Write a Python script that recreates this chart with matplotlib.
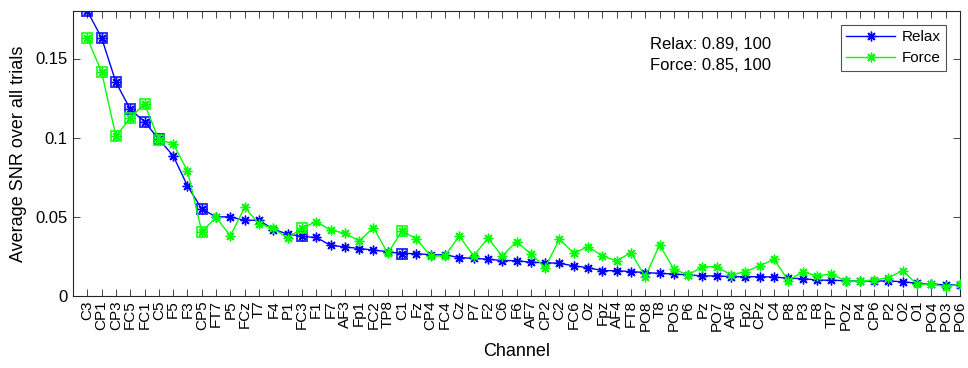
import matplotlib
matplotlib.use("Agg")
import matplotlib.pyplot as plt
import numpy as np

channels = ["C3","CP1","CP3","FC5","FC1","C5","F5","F3","CP5","FT7","P5","FCz","T7","F4","P1","FC3",
            "F1","F7","AF3","Fp1","FC2","TP8","C1","Fz","CP4","FC4","Cz","P7","F2","C6","F6","AF7",
            "CP2","C2","FC6","Oz","Fpz","AF4","FT8","PO8","T8","PO5","P6","Pz","PO7","AF8","Fp2",
            "CPz","C4","P8","P3","F8","TP7","POz","P4","CP6","P2","O2","O1","PO4","PO3","PO6"]

relax = [0.180,0.163,0.135,0.118,0.110,0.099,0.0886,0.0696,0.055,0.050,0.050,0.0477,0.048,0.042,0.0392,0.0376,
         0.037,0.032,0.031,0.030,0.029,0.028,0.0268,0.0268,0.026,0.026,0.0243,0.0238,0.0232,0.0224,0.0223,0.0213,
         0.021,0.0207,0.019,0.0179,0.016,0.016,0.0154,0.0148,0.0143,0.0139,0.0133,0.0127,0.0127,0.0122,0.0122,
         0.0122,0.012,0.0112,0.011,0.0101,0.0099,0.0097,0.0095,0.0095,0.0095,0.009,0.008,0.0076,0.007,0.007]

force = [0.1627,0.1415,0.1008,0.1125,0.1213,0.0987,0.0962,0.079,0.0407,0.0496,0.038,0.056,0.0456,0.0428,0.0365,0.0428,
         0.047,0.0416,0.0397,0.0348,0.0432,0.027,0.0411,0.036,0.0253,0.0253,0.038,0.0253,0.0365,0.0253,0.0344,0.0266,
         0.018,0.0359,0.027,0.0312,0.0253,0.0222,0.0274,0.0122,0.0323,0.0169,0.0133,0.0186,0.0186,0.0133,0.0154,
         0.019,0.0232,0.0097,0.0154,0.0127,0.0139,0.0095,0.0095,0.0101,0.0116,0.016,0.0074,0.0076,0.0059,0.0074]

significant = ["C3","CP1","CP3","FC5","FC1","C5","CP5","FC3","C1"]

annotation_lines = ["Relax: 0.89, 100", "Force: 0.85, 100"]

plt.rcParams['font.family'] = ['Liberation Sans', 'DejaVu Sans']

fig = plt.figure(figsize=(9.68, 3.68), dpi=100)
ax = fig.add_axes([73/968, 1-296/368, (960-73)/968, (296-11)/368])

x = np.arange(1, len(channels)+1)
blue = (0, 0, 1)
green = (0, 1, 0)
ast = (8, 2, 0)
ax.plot(x, relax, '-', color=blue, marker=ast, markersize=7, markeredgewidth=1.0, lw=1, label='Relax', zorder=3)
ax.plot(x, force, '-', color=green, marker=ast, markersize=7, markeredgewidth=1.0, lw=1, label='Force', zorder=4)

sig_idx = [channels.index(c) for c in significant]
ax.plot(x[sig_idx], np.array(relax)[sig_idx], 's', color=blue, markerfacecolor='none', markersize=6.5,
        markeredgewidth=1.3, alpha=0.85, zorder=3)
ax.plot(x[sig_idx], np.array(force)[sig_idx], 's', color=green, markerfacecolor='none', markersize=6.5,
        markeredgewidth=1.3, alpha=0.85, zorder=4)

ax.set_xlim(0, len(channels))
ax.set_ylim(0, 0.18)
ax.set_xticks(x)
ax.set_xticklabels(channels, rotation=90, fontsize=11)
ax.set_yticks([0, 0.05, 0.1, 0.15])
ax.set_yticklabels(["0", "0.05", "0.1", "0.15"], fontsize=12)
ax.tick_params(direction='in', top=True, right=True, length=5, width=0.6, color='#262626', pad=4)
ax.tick_params(axis='x', pad=3)
for s in ax.spines.values():
    s.set_linewidth(0.8)
    s.set_color('#262626')

ax.set_xlabel("Channel", fontsize=13, labelpad=9)
ax.set_ylabel("Average SNR over all trials", fontsize=13, labelpad=6)

ax.text(0.650, 0.884, annotation_lines[0], transform=ax.transAxes, fontsize=12, ha='left', va='center')
ax.text(0.650, 0.808, annotation_lines[1], transform=ax.transAxes, fontsize=12, ha='left', va='center')

leg = ax.legend(loc='upper right', bbox_to_anchor=(0.984, 0.951), fontsize=11, frameon=True, fancybox=False,
                edgecolor='#262626', borderpad=0.35, handlelength=3.2, handletextpad=0.4, labelspacing=0.45,
                borderaxespad=0)
leg.get_frame().set_linewidth(0.8)

fig.savefig("out.png", dpi=100)
